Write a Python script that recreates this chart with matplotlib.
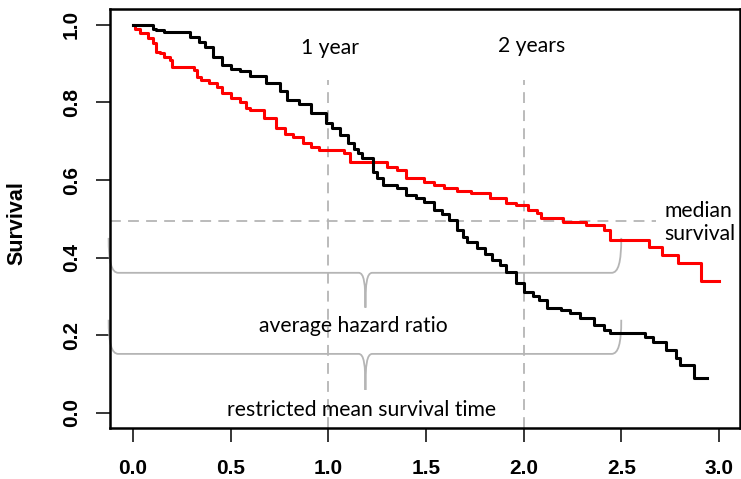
import matplotlib
matplotlib.use("Agg")
import matplotlib.pyplot as plt
from matplotlib.path import Path
from matplotlib.patches import PathPatch

# Kaplan-Meier estimates (time in years, survival after each step)
black_t = [0, 0.10, 0.12, 0.16, 0.29, 0.34, 0.37, 0.41, 0.455, 0.50, 0.55, 0.60, 0.68,
           0.75, 0.79, 0.85, 0.91, 0.99, 1.02, 1.06, 1.10, 1.13, 1.15, 1.17, 1.23, 1.25,
           1.28, 1.35, 1.40, 1.45, 1.49, 1.54, 1.58, 1.62, 1.66, 1.69, 1.71, 1.76, 1.80,
           1.84, 1.88, 1.91, 1.96, 2.00, 2.05, 2.08, 2.12, 2.19, 2.24, 2.29, 2.36, 2.41,
           2.44, 2.62, 2.66, 2.73, 2.78, 2.80, 2.87, 2.94]
black_s = [1.0, 0.99, 0.987, 0.982, 0.97, 0.955, 0.943, 0.918, 0.897, 0.887, 0.881, 0.869, 0.85,
           0.83, 0.807, 0.795, 0.773, 0.747, 0.734, 0.715, 0.695, 0.68, 0.67, 0.657, 0.62, 0.605,
           0.588, 0.58, 0.562, 0.553, 0.544, 0.523, 0.512, 0.497, 0.472, 0.454, 0.44, 0.425, 0.41,
           0.394, 0.38, 0.363, 0.335, 0.312, 0.30, 0.29, 0.27, 0.265, 0.258, 0.245, 0.227, 0.214,
           0.207, 0.196, 0.183, 0.162, 0.142, 0.124, 0.09, 0.09]

red_t = [0, 0.01, 0.036, 0.077, 0.10, 0.12, 0.14, 0.16, 0.19, 0.20, 0.31, 0.33, 0.35, 0.39,
         0.43, 0.455, 0.50, 0.55, 0.58, 0.60, 0.67, 0.73, 0.78, 0.82, 0.87, 0.91, 0.95, 1.08,
         1.11, 1.30, 1.35, 1.40, 1.49, 1.54, 1.59, 1.66, 1.73, 1.83, 1.91, 1.96, 2.02, 2.07,
         2.09, 2.20, 2.32, 2.41, 2.44, 2.64, 2.71, 2.79, 2.91, 3.00]
red_s = [1.0, 0.99, 0.979, 0.966, 0.954, 0.93, 0.928, 0.918, 0.91, 0.892, 0.884, 0.866, 0.858, 0.85,
         0.84, 0.825, 0.812, 0.80, 0.786, 0.78, 0.76, 0.734, 0.72, 0.711, 0.695, 0.686, 0.678, 0.67,
         0.647, 0.634, 0.626, 0.605, 0.595, 0.588, 0.58, 0.573, 0.567, 0.554, 0.541, 0.535, 0.523, 0.515,
         0.503, 0.492, 0.485, 0.472, 0.446, 0.428, 0.407, 0.386, 0.34, 0.34]

x_ticks = [0.0, 0.5, 1.0, 1.5, 2.0, 2.5, 3.0]
y_ticks = [0.0, 0.2, 0.4, 0.6, 0.8, 1.0]

grey = "#b5b5b5"
note_font = "Lato"
note_size = 15.2


def brace(ax, x0, x1, xm, ytop, yline, ytip, dx=0.05, dm=0.035):
    # horizontal curly brace, ends curling up, point in the middle going down
    verts = [(x0, ytop),
             (x0, yline + 0.3 * (ytop - yline)), (x0 + 0.3 * dx, yline), (x0 + dx, yline),
             (xm - dm, yline),
             (xm - 0.2 * dm, yline), (xm, yline - 0.3 * (yline - ytip)), (xm, ytip),
             (xm, yline - 0.3 * (yline - ytip)), (xm + 0.2 * dm, yline), (xm + dm, yline),
             (x1 - dx, yline),
             (x1 - 0.3 * dx, yline), (x1, yline + 0.3 * (ytop - yline)), (x1, ytop)]
    codes = [Path.MOVETO,
             Path.CURVE4, Path.CURVE4, Path.CURVE4,
             Path.LINETO,
             Path.CURVE4, Path.CURVE4, Path.CURVE4,
             Path.CURVE4, Path.CURVE4, Path.CURVE4,
             Path.LINETO,
             Path.CURVE4, Path.CURVE4, Path.CURVE4]
    ax.add_patch(PathPatch(Path(verts, codes), fill=False, edgecolor=grey, lw=1.3,
                           clip_on=False, zorder=2))


fig = plt.figure(figsize=(7.41, 4.79), dpi=100)
ax = fig.add_axes([110 / 741, 1 - 428 / 479, 630 / 741, 419 / 479])

# reference lines
ax.axvline(1.0, ymax=0.83, color=grey, lw=1.3, dashes=(6, 4), zorder=1)
ax.axvline(2.0, ymax=0.83, color=grey, lw=1.3, dashes=(6, 4), zorder=1)
ax.plot([-0.12, 2.68], [0.495, 0.495], color=grey, lw=1.3, dashes=(6, 4), zorder=1)

ax.plot(red_t, red_s, drawstyle="steps-post", color="#ff0000", lw=2.2, zorder=3)
ax.plot(black_t, black_s, drawstyle="steps-post", color="black", lw=2.2, zorder=3)

brace(ax, -0.125, 2.5, 1.19, 0.451, 0.361, 0.271)
brace(ax, -0.125, 2.5, 1.19, 0.240, 0.152, 0.059)

ax.text(1.01, 0.94, "1 year", fontsize=note_size, family=note_font, ha="center", va="center")
ax.text(2.04, 0.946, "2 years", fontsize=note_size, family=note_font, ha="center", va="center")
ax.text(2.72, 0.49, "median\nsurvival", fontsize=note_size, family=note_font, ha="left",
        va="center", linespacing=1.2)
ax.text(1.13, 0.224, "average hazard ratio", fontsize=note_size, family=note_font,
        ha="center", va="center")
ax.text(1.17, 0.008, "restricted mean survival time", fontsize=note_size, family=note_font,
        ha="center", va="center")

ax.set_xlim(-0.118, 3.108)
ax.set_ylim(-0.039, 1.041)
ax.set_xticks(x_ticks)
ax.set_xticklabels([f"{v:.1f}" for v in x_ticks])
ax.set_yticks(y_ticks)
ax.set_yticklabels([f"{v:.1f}" for v in y_ticks], rotation=90, va="center")
for lab in ax.get_xticklabels() + ax.get_yticklabels():
    lab.set_fontfamily("Liberation Sans")
    lab.set_fontweight("bold")
    lab.set_fontsize(15)
ax.tick_params(axis="x", length=10, width=1.1, pad=12)
ax.tick_params(axis="y", length=10, width=1.1, pad=11)
for sp in ax.spines.values():
    sp.set_linewidth(1.8)

ax.set_ylabel("Survival", fontsize=15.5, fontweight="bold", family="Liberation Sans")
ax.yaxis.label.set_va("center")
ax.yaxis.set_label_coords(-0.148, 0.49)

fig.savefig("out.png", dpi=100)
